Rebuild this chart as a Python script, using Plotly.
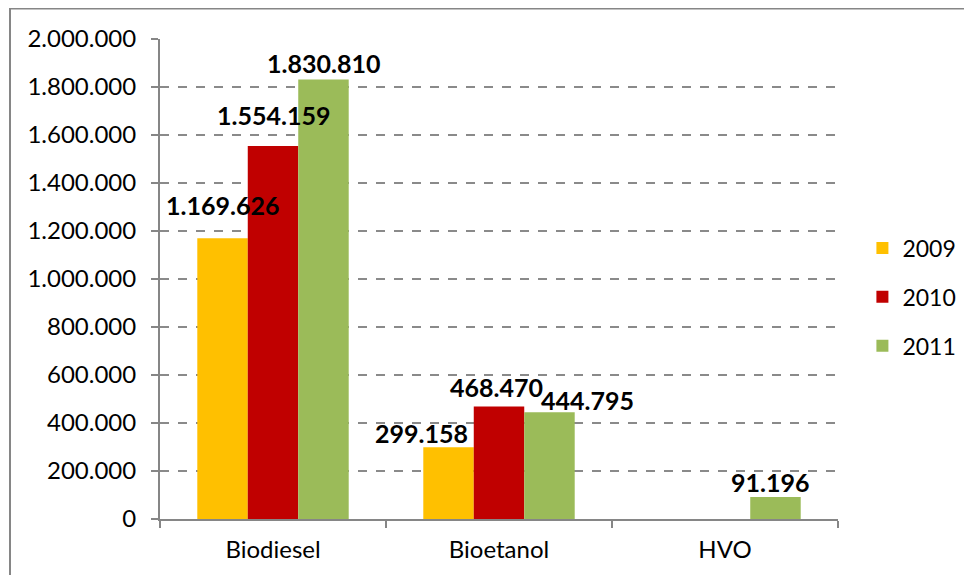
import plotly.graph_objects as go

categories = ["Biodiesel", "Bioetanol", "HVO"]
years = ["2009", "2010", "2011"]
v2009 = [1169626, 299158, None]
v2010 = [1554159, 468470, None]
v2011 = [1830810, 444795, 91196]
colors = ["#FFC000", "#C00000", "#9BBB59"]

# label nudges (px) per series/category, like Excel's hand-placed labels
label_dx = [[0, -27, 0], [0, -3, 0], [0, 38, -5]]
label_dy = [[20, 1, 0], [18, 7, 0], [4, -1, 2]]

font = "Lato, 'Open Sans', sans-serif"
series = [v2009, v2010, v2011]

PLOT_W = 678
BARGAP = 0.33
bar_w = PLOT_W / len(categories) * (1 - BARGAP) / len(series)

fig = go.Figure()
for i, (name, vals) in enumerate(zip(years, series)):
    fig.add_trace(go.Bar(
        x=categories, y=vals, name=name,
        marker=dict(color=colors[i], line=dict(width=0)),
        legendgroup=name,
    ))
    for j, v in enumerate(vals):
        if v is None:
            continue
        fig.add_annotation(
            x=categories[j], y=v, xref="x", yref="y",
            text=f"{v:,d}".replace(",", "."),
            showarrow=False, yanchor="bottom", xanchor="center",
            xshift=(i - 1) * bar_w + label_dx[i][j],
            yshift=label_dy[i][j] - 4,
            font=dict(family=font, size=25, color="black", weight="bold"),
        )

fig.update_layout(
    width=972, height=575,
    barmode="group", bargap=BARGAP, bargroupgap=0,
    separators=",.",
    plot_bgcolor="white", paper_bgcolor="white",
    margin=dict(l=152, r=142, t=31, b=64, autoexpand=False),
    font=dict(family=font, size=23, color="black"),
    legend=dict(x=1.036, y=0.4625, yanchor="middle", xanchor="left",
                traceorder="grouped", tracegroupgap=16,
                font=dict(size=23)),
    showlegend=True,
)
fig.update_yaxes(
    range=[0, 2000000], dtick=200000, tickformat=",d",
    showgrid=True, gridcolor="#8A8A8A", griddash="dash", gridwidth=1.5,
    showline=True, linecolor="#868686", linewidth=2,
    ticks="outside", ticklen=7, tickcolor="#868686", tickwidth=1.5,
    zeroline=False, ticklabelstandoff=10, automargin=False,
    tickfont=dict(size=24),
)
fig.update_xaxes(
    showline=True, linecolor="#868686", linewidth=2,
    ticks="outside", tickson="boundaries", ticklen=7,
    tickcolor="#868686", tickwidth=1.5, showgrid=False,
    tickfont=dict(size=24), automargin=False, ticklabelstandoff=8,
)
fig.add_shape(type="rect", xref="paper", yref="paper",
              x0=(2 - 152) / 678, x1=1.3, y0=-0.2, y1=(511 - 0.5) / 480,
              line=dict(color="#868686", width=2), layer="below")

fig.write_html("out.html")
